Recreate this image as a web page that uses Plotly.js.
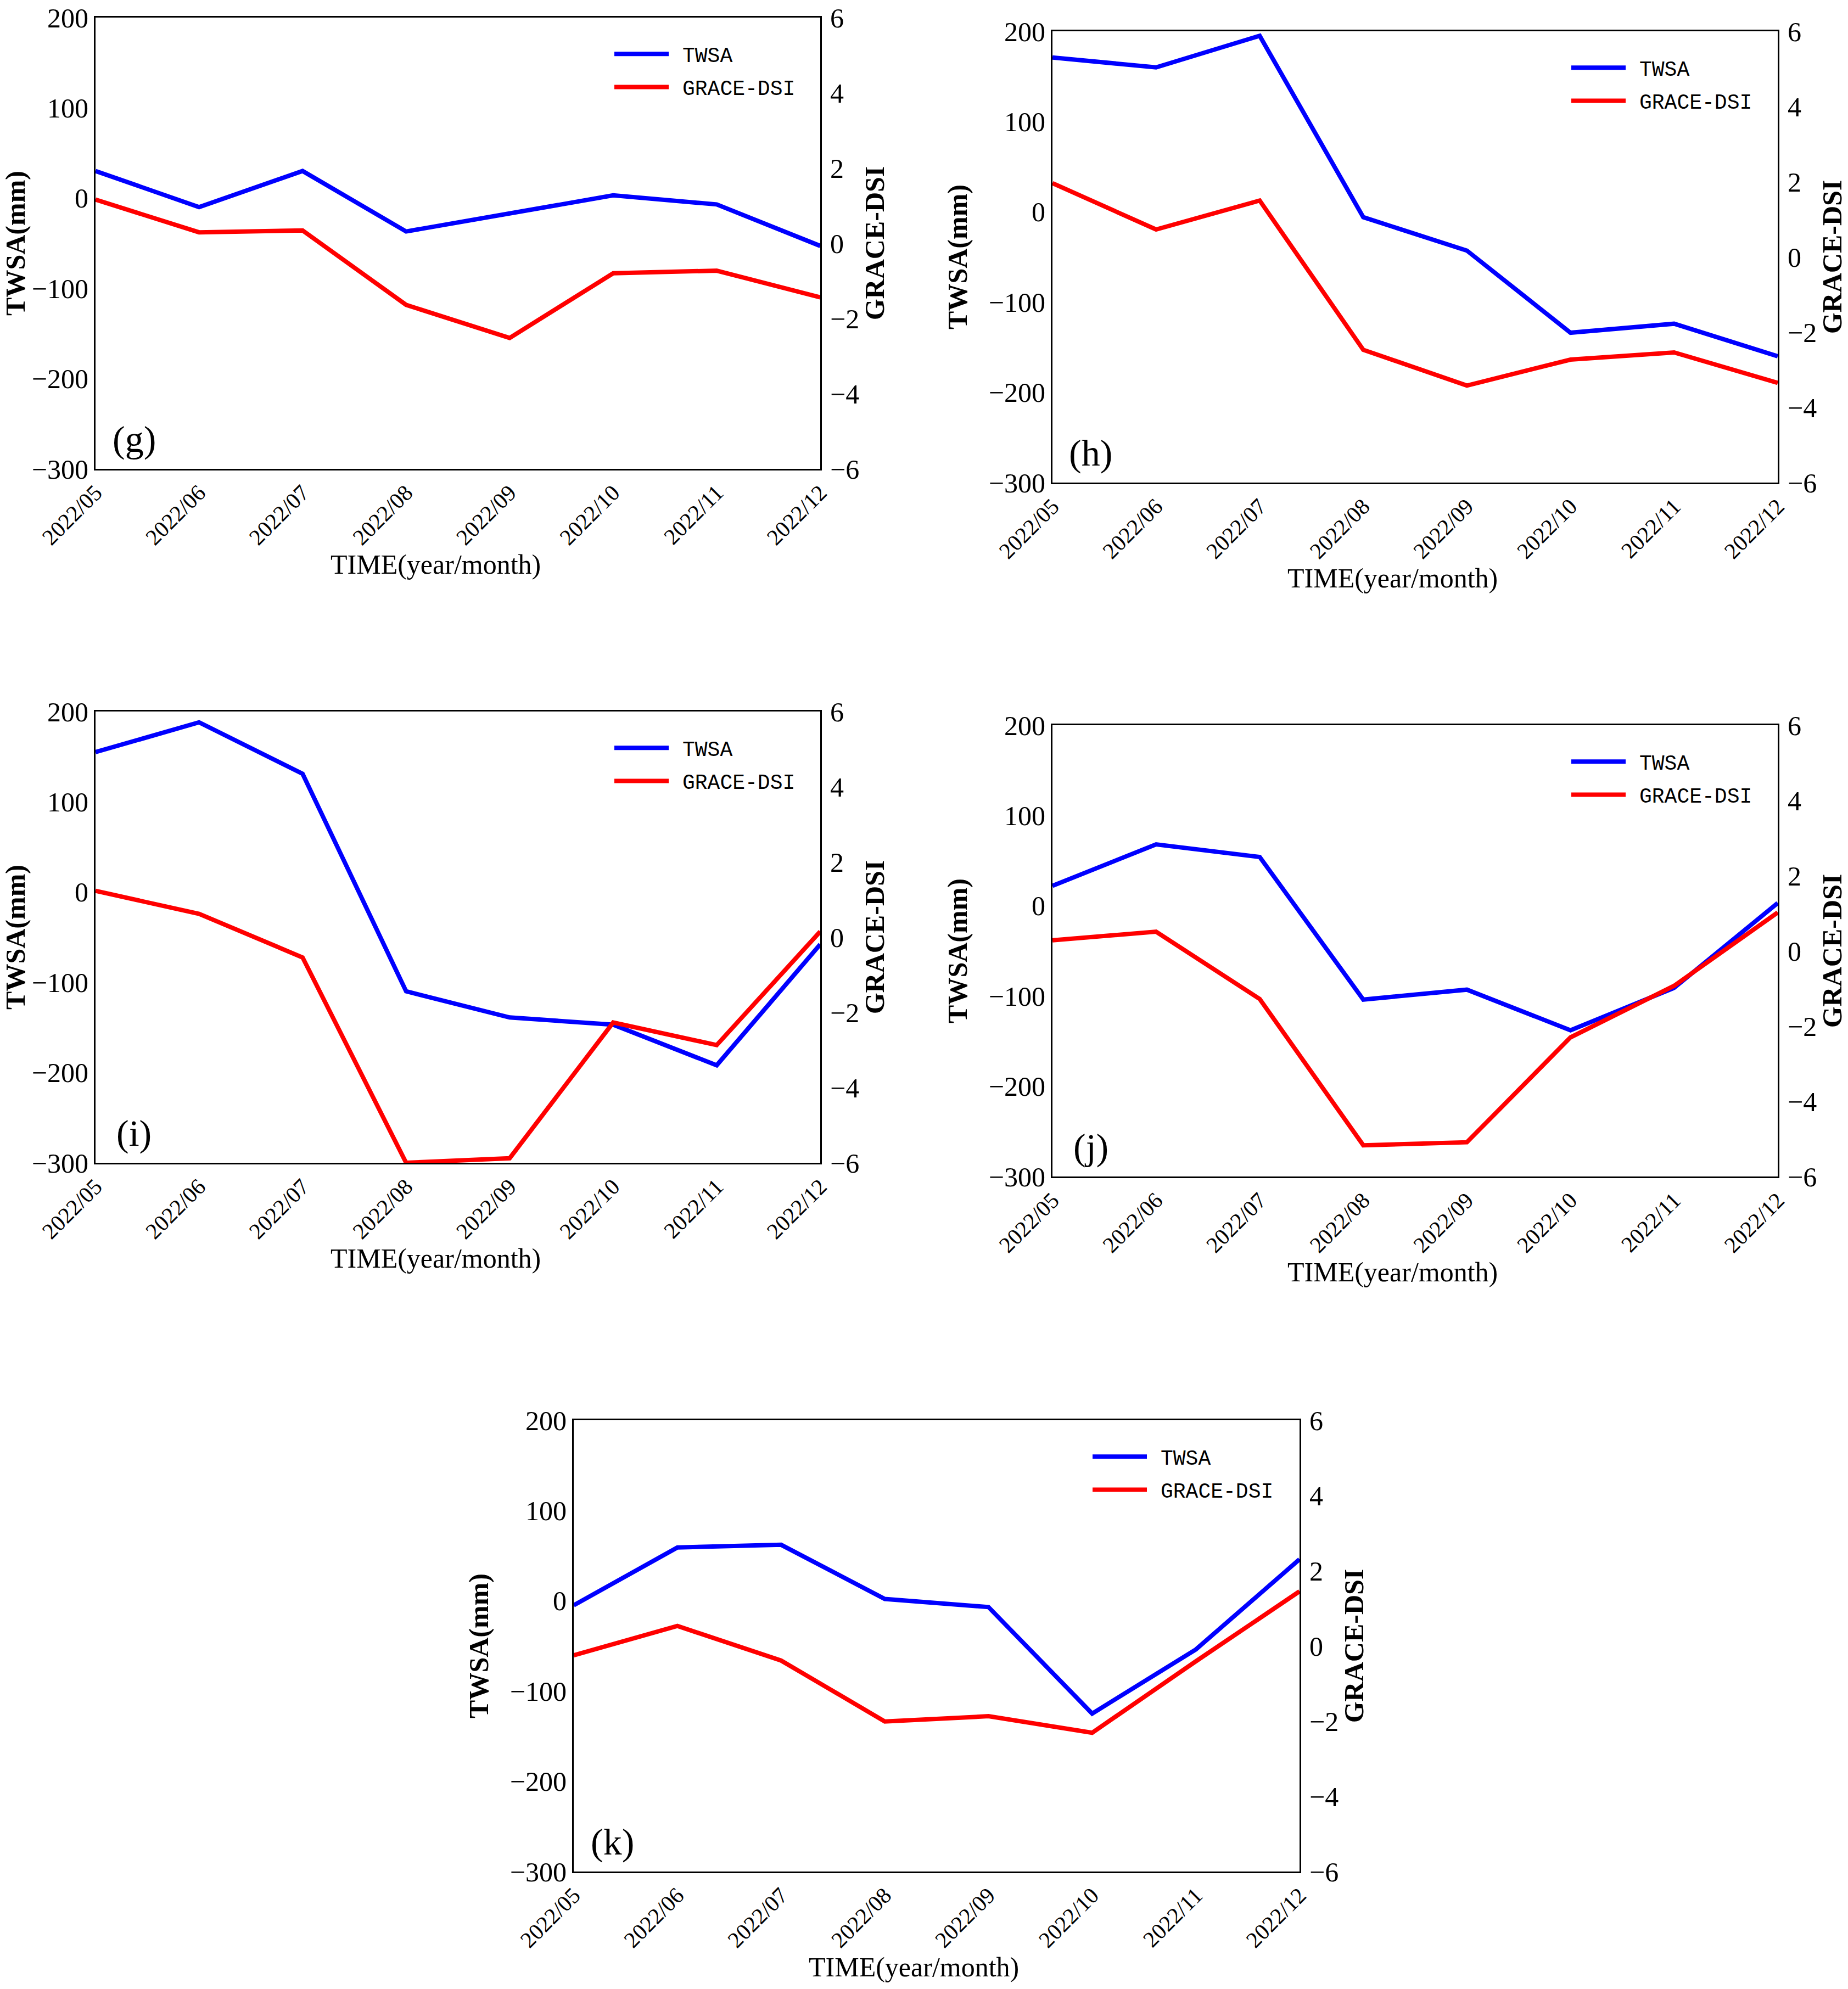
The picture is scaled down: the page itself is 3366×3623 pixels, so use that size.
<!DOCTYPE html>
<html>
<head>
<meta charset="utf-8">
<script src="https://cdn.plot.ly/plotly-3.0.1.min.js"></script>
<style>html,body{margin:0;padding:0;background:#fff;}</style>
</head>
<body>
<div id="chart" style="width:3366px;height:3623px;"></div>
<script>
// ---- data ----
const months = ['2022/05','2022/06','2022/07','2022/08','2022/09','2022/10','2022/11','2022/12'];
const panelLabels = ['(g)','(h)','(i)','(j)','(k)'];
const seriesNames = ['TWSA','GRACE-DSI'];
const xTitle = 'TIME(year/month)';
const twsa_g = [30, -10, 30, -37, -17, 3, -7, -53];
const dsi_g  = [1.16, 0.29, 0.34, -1.64, -2.52, -0.80, -0.73, -1.44];
const twsa_h = [171, 160, 195, -6, -43, -134, -124, -160];
const dsi_h  = [1.96, 0.73, 1.50, -2.47, -3.42, -2.73, -2.54, -3.35];
const twsa_i = [155, 188, 131, -110, -139, -147, -192, -58];
const dsi_i  = [1.23, 0.62, -0.54, -6.0, -5.88, -2.27, -2.87, 0.15];
const twsa_j = [22, 68, 54, -104, -93, -138, -91, 3];
const dsi_j  = [0.28, 0.51, -1.28, -5.17, -5.09, -2.30, -0.93, 1.02];
const twsa_k = [-5, 59, 62, 2, -7, -125, -54, 46];
const dsi_k  = [-0.25, 0.53, -0.39, -2.01, -1.87, -2.31, -0.41, 1.45];
const twsaTicks = [-300, -200, -100, 0, 100, 200];
const dsiTicks = [-6, -4, -2, 0, 2, 4, 6];

const twsaAll = [twsa_g, twsa_h, twsa_i, twsa_j, twsa_k];
const dsiAll = [dsi_g, dsi_h, dsi_i, dsi_j, dsi_k];

// ---- layout geometry (pixels) ----
const W = 3366, H = 3623;
const boxes = [
  {l:174, r:1494, t:32, b:854},
  {l:1917, r:3238, t:57, b:879},
  {l:174, r:1494, t:1296, b:2118},
  {l:1917, r:3238, t:1321, b:2143},
  {l:1045, r:2367, t:2587, b:3409}
];
const SERIF = 'Liberation Serif, Times New Roman, serif';
const MONO = 'Liberation Mono, Courier New, monospace';

const data = [];
const layout = {
  width: W, height: H,
  margin: {l:0, r:0, t:0, b:0},
  paper_bgcolor: '#fff', plot_bgcolor: '#fff',
  showlegend: true,
  font: {family: SERIF, color: '#000', size: 48},
  annotations: []
};

boxes.forEach((bx, p) => {
  const n = p + 1;
  const xName = n === 1 ? 'x' : 'x' + n;
  const yL = 2*n - 1, yR = 2*n;
  const yLName = yL === 1 ? 'y' : 'y' + yL;
  const yRName = 'y' + yR;
  const legName = n === 1 ? 'legend' : 'legend' + n;

  data.push({
    type: 'scatter', mode: 'lines', x: months, y: twsaAll[p],
    name: seriesNames[0], xaxis: xName, yaxis: yLName,
    line: {color: '#0000FF', width: 8}, legend: legName, legendgroup: 'a' + n
  });
  data.push({
    type: 'scatter', mode: 'lines', x: months, y: dsiAll[p],
    name: seriesNames[1], xaxis: xName, yaxis: yRName,
    line: {color: '#FF0000', width: 8}, legend: legName, legendgroup: 'b' + n
  });

  const xd = [bx.l / W, bx.r / W];
  const yd = [1 - bx.b / H, 1 - bx.t / H];
  const bw = bx.r - bx.l, bh = bx.b - bx.t;

  layout['xaxis' + (n === 1 ? '' : n)] = {
    domain: xd, anchor: yLName, type: 'category', range: [0, 7],
    showline: true, linecolor: '#000', linewidth: 3, mirror: true,
    showgrid: false, zeroline: false, ticks: '', tickangle: -45,
    tickfont: {family: SERIF, size: 41, color: '#000'},
    ticklabelstandoff: 0
  };
  layout['yaxis' + (yL === 1 ? '' : yL)] = {
    domain: yd, anchor: xName, range: [-300, 200], tickvals: twsaTicks,
    showline: true, linecolor: '#000', linewidth: 3,
    showgrid: false, zeroline: false, ticks: '',
    tickfont: {family: SERIF, size: 50, color: '#000'},
    ticklabelstandoff: 0,
    title: {text: '<b>TWSA(mm)</b>', font: {family: SERIF, size: 50, color: '#000'}, standoff: 24}
  };
  layout['yaxis' + yR] = {
    domain: yd, anchor: xName, overlaying: yLName, side: 'right',
    range: [-6, 6], tickvals: dsiTicks,
    showline: true, linecolor: '#000', linewidth: 3,
    showgrid: false, zeroline: false, ticks: '',
    tickfont: {family: SERIF, size: 50, color: '#000'},
    ticklabelstandoff: 5,
    title: {text: '<b>GRACE-DSI</b>', font: {family: SERIF, size: 50, color: '#000'}, standoff: 6}
  };
  layout[legName] = {
    x: (bx.l + 940) / W, y: 1 - (bx.t + 35) / H,
    xanchor: 'left', yanchor: 'top',
    bgcolor: 'rgba(0,0,0,0)', borderwidth: 0,
    font: {family: MONO, size: 38, color: '#000'},
    itemwidth: 119, traceorder: 'grouped', tracegroupgap: 8
  };
  layout.annotations.push({
    xref: xName + ' domain', yref: yLName + ' domain',
    x: 70 / bw, y: 54 / bh,
    xanchor: 'center', yanchor: 'middle', showarrow: false,
    text: panelLabels[p], font: {family: SERIF, size: 68, color: '#000'}
  });
  // x-axis title, placed as in the reference (slightly left of centre)
  layout.annotations.push({
    xref: xName + ' domain', yref: yLName + ' domain',
    x: 619 / bw, y: -174 / bh,
    xanchor: 'center', yanchor: 'middle', showarrow: false,
    text: xTitle, font: {family: SERIF, size: 50, color: '#000'}
  });
});

Plotly.newPlot('chart', data, layout, {displayModeBar: false, staticPlot: true}).then(gd => {
  // lengthen legend line samples to match the reference
  gd.querySelectorAll('.legendlines path').forEach(pth => pth.setAttribute('d', 'M5,0h99'));
});
</script>
</body>
</html>
